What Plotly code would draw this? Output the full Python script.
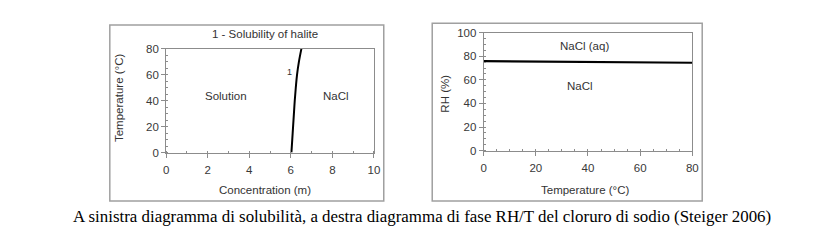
import plotly.graph_objects as go

W, H = 817, 249

# Left chart: solubility of halite
sol_temp = [0, 10, 20, 30, 40, 50, 60, 70, 80]
sol_conc = [6.03, 6.07, 6.11, 6.15, 6.19, 6.24, 6.30, 6.39, 6.51]
left_x_ticks = [0, 2, 4, 6, 8, 10]
left_y_ticks = [0, 20, 40, 60, 80]

# Right chart: RH/T phase diagram
rh_temp = [0, 20, 40, 60, 80]
rh_val = [75.9, 75.6, 75.3, 75.0, 74.5]
right_x_ticks = [0, 20, 40, 60, 80]
right_y_ticks = [0, 20, 40, 60, 80, 100]

def px(x):
    return x / W

def py(y):
    return 1 - y / H

fig = go.Figure()
fig.add_trace(go.Scatter(x=sol_conc, y=sol_temp, mode="lines", line=dict(color="black", width=2, shape="spline"),
                         xaxis="x", yaxis="y", showlegend=False, hoverinfo="skip"))
fig.add_trace(go.Scatter(x=rh_temp, y=rh_val, mode="lines", line=dict(color="black", width=2.2),
                         xaxis="x2", yaxis="y2", showlegend=False, hoverinfo="skip"))

tickfont = dict(family="Liberation Sans, Arial", size=11.5, color="#383838")
axline = dict(showline=True, linecolor="#8c8c8c", linewidth=1, mirror=True, showgrid=False, zeroline=False,
              ticks="outside", ticklen=4, tickcolor="#8c8c8c", tickfont=tickfont)

fig.update_layout(
    width=W, height=H, margin=dict(l=0, r=0, t=0, b=0),
    paper_bgcolor="white", plot_bgcolor="white",
    xaxis=dict(domain=[px(165), px(375)], range=[0, 10], tickvals=left_x_ticks, anchor="y", ticklabelstandoff=3,
               minor=dict(dtick=1, ticks="inside", ticklen=2, tickcolor="#8c8c8c"), **axline),
    yaxis=dict(domain=[py(154), py(45)], range=[0, 80], tickvals=left_y_ticks, anchor="x",
               minor=dict(dtick=5, ticks="inside", ticklen=2, tickcolor="#8c8c8c"), **axline),
    xaxis2=dict(domain=[px(486), px(697)], range=[0, 80], tickvals=right_x_ticks, anchor="y2", ticklabelstandoff=3,
                minor=dict(dtick=5, ticks="inside", ticklen=2, tickcolor="#8c8c8c"), **axline),
    yaxis2=dict(domain=[py(152), py(28)], range=[0, 100], tickvals=right_y_ticks, anchor="x2",
                minor=dict(dtick=5, ticks="inside", ticklen=2, tickcolor="#8c8c8c"), **axline),
)

# Outer chart boxes
for (x0, y0, x1, y1) in [(108, 20, 385, 205), (434, 18, 707, 205)]:
    fig.add_shape(type="rect", xref="paper", yref="paper", x0=px(x0), x1=px(x1), y0=py(y1), y1=py(y0),
                  line=dict(color="#a0a0a0", width=1.5), fillcolor="rgba(0,0,0,0)")

txt = dict(family="Liberation Sans, Arial", size=11.5, color="#333333")
ann = []

def add(text, x, y, xref="paper", yref="paper", font=txt, angle=0):
    ann.append(dict(text=text, x=x, y=y, xref=xref, yref=yref, showarrow=False, font=font,
                    textangle=angle, xanchor="center", yanchor="middle"))

# Left chart labels
add("1 - Solubility of halite", px(265), py(29))
add("Concentration (m)", px(265), py(193))
add("Temperature (°C)", px(118), py(97), angle=-90)
add("Solution", 2.9, 44, "x", "y")
add("NaCl", 8.2, 44, "x", "y")
add("1", 5.92, 62, "x", "y", font=dict(family="Liberation Sans, Arial", size=9, color="#333333"))
# Right chart labels
add("Temperature (°C)", px(588), py(193))
add("RH (%)", px(446), py(92), angle=-90)
add("NaCl (aq)", 38.5, 89, "x2", "y2")
add("NaCl", 37, 55, "x2", "y2")
# Caption
add("A sinistra diagramma di solubilità, a destra diagramma di fase RH/T del cloruro di sodio (Steiger 2006)",
    px(424), py(221), font=dict(family="Liberation Serif, Times New Roman", size=16.9, color="black"))
fig.update_layout(annotations=ann)

fig.write_html("out.html")
